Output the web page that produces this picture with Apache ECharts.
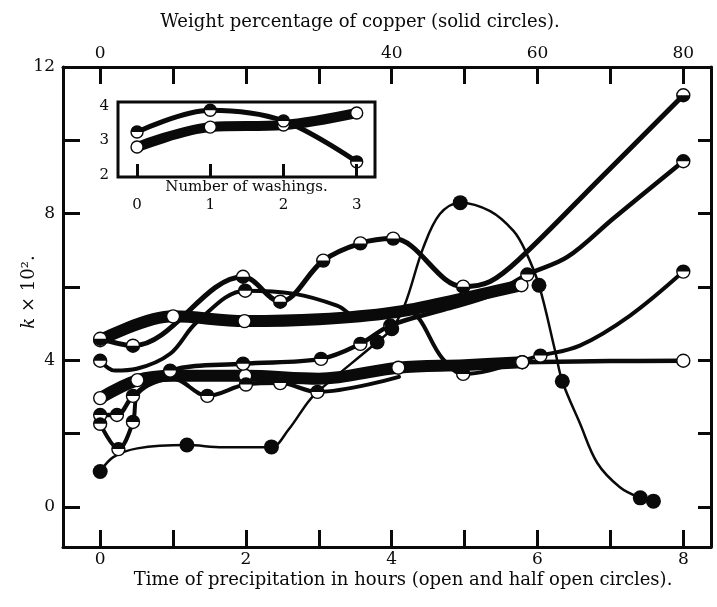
<!DOCTYPE html>
<html><head><meta charset="utf-8">
<script src="https://cdn.jsdelivr.net/npm/echarts@6/dist/echarts.min.js"></script>
<style>html,body{margin:0;padding:0;background:#fff}#c{width:717px;height:607px}</style>
</head><body><div id="c"></div>
<script>
// ---- axis ticks and labels ----
const hourTicks = [0,1,2,3,4,5,6,7,8];
const hourLabels = [0,2,4,6,8];
const copperTicks = [0,10,20,30,40,50,60,70,80];
const copperLabels = [0,40,60,80];
const kTicks = [0,2,4,6,8,10,12];
const kLabels = [0,4,8,12];
const kRightTicks = [0,2,4,6,8,10];
const washTicks = [0,1,2,3];
const washKLabels = [2,3,4];

// ---- main chart curves (x in hours / copper%/10, y = k x 10^2) ----
// marks: circle positions; bends: points read along the drawn line between circles
const upperBandMarks = [[0,4.55],[1.0,5.2],[1.98,5.07],[5.78,6.05]];
const upperBandBends = [[3,5.12],[4,5.3],[5,5.7]];

const curveBMarks = [[0,4.59],[0.45,4.4],[1.96,6.28],[2.47,5.6],[3.06,6.72],[3.57,7.19],[4.02,7.32],[4.98,6.01],[8,11.23]];
const curveBBends = [[5.35,6.15],[5.76,6.78],[6.86,8.96]];

const curveCMarks = [[0,3.99],[1.99,5.9],[4.98,3.63],[6.04,4.13],[8,6.42]];
const curveCBends = [[0.2,3.72],[0.5,3.77],[0.96,4.18],[1.33,5.05],[2.65,5.82],[3.25,5.49],[3.57,5.14],[4.21,5.33],[4.7,4.04],[6.58,4.4],[7.27,5.22]];

const curveVMarks = [[0,2.51],[0.23,2.51],[0.45,3.03],[0.96,3.72],[1.96,3.91],[3.03,4.04],[3.57,4.45],[3.98,4.95],[5.86,6.34],[8,9.43]];
const curveVBends = [[4.76,5.41],[5.35,5.77],[6.41,6.82],[7.04,7.87]];

const curveUMarks = [[0,2.27],[0.25,1.58],[0.45,2.32],[1.47,3.03],[2,3.34],[2.47,3.38],[2.98,3.14]];
const curveUBends = [[0.52,3.1],[1.0,3.5],[4.1,3.55]];

const lowerBandMarks = [[0,2.97],[0.51,3.46],[1.99,3.58],[4.09,3.8],[5.79,3.95]];
const lowerBandBends = [[1,3.58],[3,3.5],[5,3.87]];

const lowerTailMarks = [[5.79,3.95],[8,3.99]];
const lowerTailBends = [[7,3.98]];

const copperMarks = [[0,0.97],[1.19,1.69],[2.35,1.64],[3.8,4.5],[4.0,4.86],[4.94,8.3],[6.02,6.05],[6.34,3.43],[7.41,0.25],[7.59,0.16]];
const copperBends = [[0.18,1.36],[0.51,1.6],[1.68,1.63],[2.58,2.1],[2.85,2.86],[2.98,3.14],[4.18,5.52],[4.43,7.06],[4.66,7.99],[5.35,8.07],[5.67,7.53],[5.83,7.0],[6.24,4.27],[6.58,2.29],[6.82,1.2],[7.13,0.54]];

// ---- inset (number of washings) ----
const insetThin = [[0,3.25],[1,3.88],[2,3.57],[3,2.38]];
const insetThick = [[0,2.81],[1,3.39],[2,3.45],[3,3.8]];

// ---- rendering ----
const INK = '#0a0a0a';
const FONT = 'DejaVu Serif';
const TOPHALF = 'path://M0,10 A10,10 0 0 1 20,10 Z';
const BOTHALF = 'path://M0,0 A10,10 0 0 0 20,0 Z';

function path(marks, bends){ return marks.concat(bends).sort((a,b)=>a[0]-b[0]); }

const series = [];
function addCurve(marks, bends, width, kind, grid, size){
  const xi = grid ? 2 : 0, yi = grid ? 2 : 0;
  const zb = grid ? 10 : 2;
  size = size || 13;
  const common = {xAxisIndex:xi, yAxisIndex:yi, silent:true, animation:false};
  series.push({...common, type:'line', data:path(marks,bends), smooth:0.35,
    symbol:'none', lineStyle:{color:INK, width:width, cap:'round', join:'round', opacity:1}, z:zb});
  if(kind==='solid'){
    series.push({...common, type:'scatter', data:marks, symbol:'circle', symbolSize:size+2,
      itemStyle:{color:INK, opacity:1}, z:zb+2});
    return;
  }
  series.push({...common, type:'scatter', data:marks, symbol:'circle', symbolSize:size,
    itemStyle:{color:'#fff', borderColor:INK, borderWidth:1.4, opacity:1}, z:zb+1});
  if(kind==='top' || kind==='bottom'){
    series.push({...common, type:'scatter', data:marks,
      symbol: kind==='top'?TOPHALF:BOTHALF, symbolSize:[size, size/2],
      symbolOffset:[0, kind==='top'?'-50%':'50%'], itemStyle:{color:INK, opacity:1}, z:zb+2});
  }
}

addCurve(lowerBandMarks, lowerBandBends, 12, 'open');
addCurve(lowerTailMarks, lowerTailBends, 4.5, 'open');
addCurve(upperBandMarks, upperBandBends, 12, 'open');
addCurve(curveUMarks, curveUBends, 4, 'top');
addCurve(curveVMarks, curveVBends, 4.5, 'top');
addCurve(curveCMarks, curveCBends, 4, 'top');
addCurve(curveBMarks, curveBBends, 5, 'bottom');
addCurve(copperMarks, copperBends, 2.5, 'solid');
addCurve(insetThick, [], 10, 'open', 1, 12);
addCurve(insetThin, [], 5, 'top', 1, 12);

const lab = {fontFamily:FONT, fontSize:17, color:INK};
const nameStyle = {fontFamily:FONT, fontSize:18, color:INK};
const frame = {show:true, onZero:false, lineStyle:{color:INK, width:3}};

const option = {
  animation:false,
  backgroundColor:'#fff',
  grid:[
    {left:63, right:6, top:67, bottom:60},
    {left:118, top:102, width:257, height:75, show:true, backgroundColor:'#fff', borderColor:INK, borderWidth:3, z:5}
  ],
  xAxis:[
    {type:'value', gridIndex:0, position:'bottom', min:-0.51, max:8.38,
     axisLine:frame, splitLine:{show:false},
     axisTick:{show:true, inside:true, length:17, lineStyle:{color:INK,width:3}, customValues:hourTicks},
     axisLabel:{...lab, margin:4, customValues:hourLabels},
     name:'Time of precipitation in hours (open and half open circles).', nameLocation:'middle', nameGap:24,
     nameMoveOverlap:false,
     nameTextStyle:{...nameStyle, padding:[0,0,0,32]}},
    {type:'value', gridIndex:0, position:'top', min:-5.1, max:83.8,
     axisLine:frame, splitLine:{show:false},
     axisTick:{show:true, inside:true, length:17, lineStyle:{color:INK,width:3}, customValues:copperTicks},
     axisLabel:{...lab, margin:5, customValues:copperLabels},
     name:'Weight percentage of copper (solid circles).', nameLocation:'middle', nameGap:36,
     nameMoveOverlap:false,
     nameTextStyle:{...nameStyle, padding:[0,54,0,0]}},
    {type:'value', gridIndex:1, position:'bottom', min:-0.26, max:3.25,
     axisLine:{show:false}, splitLine:{show:false},
     axisTick:{show:true, inside:true, length:13, lineStyle:{color:INK,width:3}, customValues:washTicks},
     axisLabel:{...lab, fontSize:15, margin:21, customValues:washTicks},
     name:'Number of washings.', nameLocation:'middle', nameGap:3,
     nameMoveOverlap:false,
     nameTextStyle:{...lab, fontSize:15}, z:12}
  ],
  yAxis:[
    {type:'value', gridIndex:0, position:'left', min:-1.09, max:12,
     axisLine:frame, splitLine:{show:false},
     axisTick:{show:true, inside:true, length:17, lineStyle:{color:INK,width:3}, customValues:kTicks},
     axisLabel:{...lab, margin:8, customValues:kLabels},
     name:'{i|k} × 10².', nameLocation:'middle', nameGap:25,
     nameMoveOverlap:false,
     nameTextStyle:{...nameStyle, padding:[0,0,0,30], rich:{i:{fontFamily:FONT, fontSize:18, fontStyle:'italic', color:INK}}}},
    {type:'value', gridIndex:0, position:'right', min:-1.09, max:12,
     axisLine:frame, splitLine:{show:false},
     axisTick:{show:true, inside:true, length:13, lineStyle:{color:INK,width:3}, customValues:kRightTicks},
     axisLabel:{show:false}},
    {type:'value', gridIndex:1, position:'left', min:1.94, max:4.12,
     axisLine:{show:false}, splitLine:{show:false}, axisTick:{show:false},
     axisLabel:{...lab, fontSize:15, margin:9, customValues:washKLabels}, z:12}
  ],
  series: series
};
echarts.init(document.getElementById('c'), null, {renderer:'canvas'}).setOption(option);
</script></body></html>
